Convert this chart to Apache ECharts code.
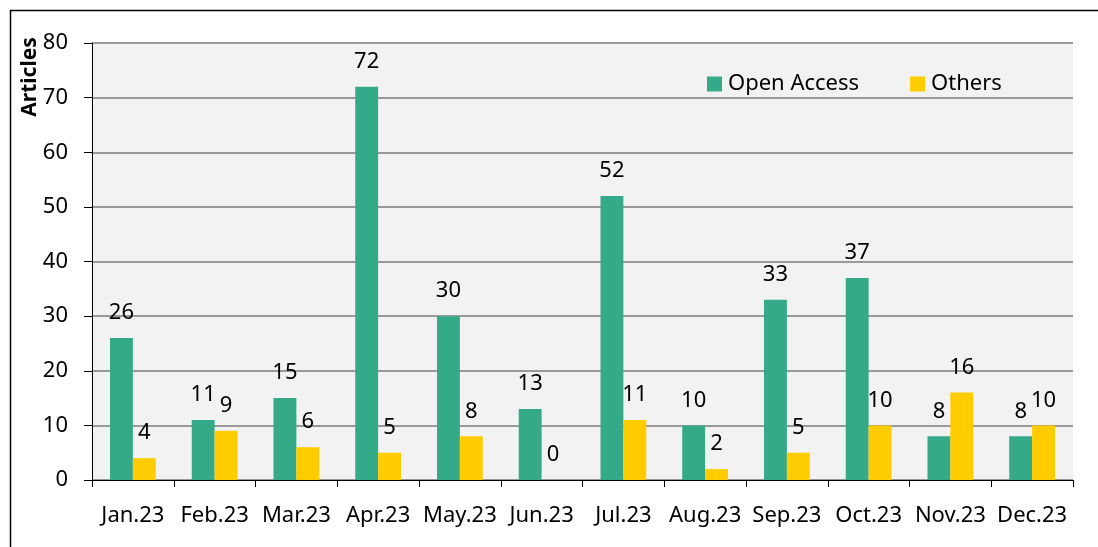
<!DOCTYPE html>
<html>
<head>
<meta charset="utf-8">
<script src="https://cdn.jsdelivr.net/npm/echarts@6/dist/echarts.min.js"></script>
<style>
  html, body { margin: 0; padding: 0; background: #fff; }
  #myChart { width: 1098px; height: 547px; }
</style>
</head>
<body>
<div id="myChart"></div>
<script>
// months and article counts
var months = ['Jan.23', 'Feb.23', 'Mar.23', 'Apr.23', 'May.23', 'Jun.23',
              'Jul.23', 'Aug.23', 'Sep.23', 'Oct.23', 'Nov.23', 'Dec.23'];
var openAccess = [26, 11, 15, 72, 30, 13, 52, 10, 33, 37, 8, 8];
var others = [4, 9, 6, 5, 8, 0, 11, 2, 5, 10, 16, 10];
var yTicks = { min: 0, max: 80, interval: 10 };

var font = 'Noto Sans';

var myChart = echarts.init(document.getElementById('myChart'), null, {renderer: 'canvas'});

function barLabel() {
    return {
        show: true,
        position: 'top',
        distance: 14,
        color: '#000',
        fontSize: 22,
        fontFamily: font
    };
}

myChart.setOption({
    animation: false,
    color: ['#35aa89', '#ffcc00'],
    textStyle: { fontFamily: font },
    graphic: [
        {
            type: 'rect',
            shape: { x: 10.5, y: 10.5, width: 1200, height: 600 },
            style: { fill: 'none', stroke: '#000', lineWidth: 1.5 },
            z: -10
        },
        {
            type: 'text',
            x: 30,
            y: 77,
            rotation: Math.PI / 2,
            style: {
                text: 'Articles',
                fontSize: 21,
                fontWeight: 'bold',
                fontFamily: font,
                fill: '#000',
                align: 'center',
                verticalAlign: 'middle'
            }
        }
    ],
    grid: {
        left: 92, right: 25, top: 43, bottom: 67,
        show: true,
        backgroundColor: '#f2f2f2',
        borderWidth: 0
    },
    legend: {
        left: 707,
        top: 73,
        padding: 0,
        itemWidth: 15,
        itemHeight: 15,
        itemGap: 51,
        icon: 'rect',
        textStyle: { fontSize: 22, color: '#000', fontFamily: font, padding: [0, 0, 0, 1] },
        data: ['Open Access', 'Others']
    },
    xAxis: {
        type: 'category',
        data: months,
        axisLine: { lineStyle: { color: '#000', width: 1 } },
        axisTick: { show: true, length: 7, lineStyle: { color: '#000' } },
        axisLabel: { color: '#000', fontSize: 22, margin: 25, fontFamily: font, interval: 0 }
    },
    yAxis: {
        type: 'value',
        min: yTicks.min,
        max: yTicks.max,
        interval: yTicks.interval,
        axisLine: { show: true, lineStyle: { color: '#000', width: 1 } },
        axisTick: { show: true, length: 8, lineStyle: { color: '#000' } },
        axisLabel: { color: '#000', fontSize: 22, margin: 24, fontFamily: font },
        splitLine: { lineStyle: { color: '#999', width: 2 } }
    },
    series: [
        {
            name: 'Open Access',
            type: 'bar',
            data: openAccess,
            barGap: '0%',
            barCategoryGap: '44%',
            label: barLabel()
        },
        {
            name: 'Others',
            type: 'bar',
            data: others,
            label: barLabel()
        }
    ]
});
</script>
</body>
</html>
